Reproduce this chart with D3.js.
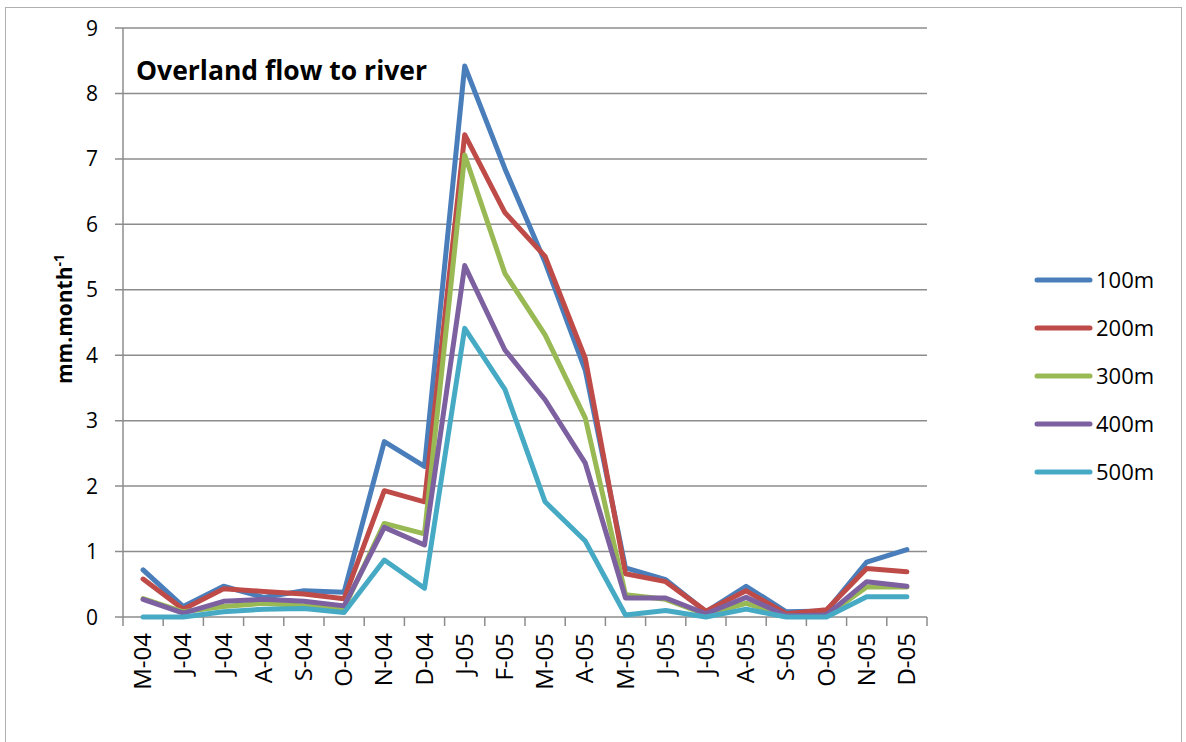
<!DOCTYPE html>
<html><head><meta charset="utf-8">
<script src="https://cdn.jsdelivr.net/npm/d3@7"></script>
<style>body{margin:0;background:#fff}svg{display:block}text{font-family:"Open Sans",sans-serif}</style>
</head><body><svg id="c" width="1186" height="742"></svg>
<script>
const categories = ["M-04","J-04","J-04","A-04","S-04","O-04","N-04","D-04","J-05","F-05","M-05","A-05","M-05","J-05","J-05","A-05","S-05","O-05","N-05","D-05"];
const seriesNames = ["100m","200m","300m","400m","500m"];
const s100 = [0.72,0.16,0.47,0.30,0.40,0.38,2.68,2.30,8.42,6.85,5.42,3.77,0.75,0.57,0.08,0.47,0.08,0.09,0.84,1.03];
const s200 = [0.58,0.12,0.43,0.39,0.35,0.28,1.93,1.76,7.37,6.18,5.51,3.95,0.66,0.54,0.09,0.40,0.05,0.11,0.74,0.69];
const s300 = [0.28,0.08,0.16,0.21,0.17,0.14,1.43,1.27,7.06,5.25,4.31,3.04,0.34,0.27,0.04,0.21,0.02,0.02,0.46,0.46];
const s400 = [0.27,0.06,0.24,0.27,0.24,0.17,1.37,1.10,5.37,4.08,3.32,2.35,0.29,0.29,0.05,0.30,0.02,0.03,0.54,0.47];
const s500 = [0.00,0.00,0.08,0.12,0.13,0.07,0.87,0.44,4.41,3.48,1.76,1.16,0.03,0.10,0.00,0.12,0.00,0.00,0.31,0.31];
const colors = ["#4A7EBB","#BE4B48","#98B954","#7D60A0","#46AAC5"];
const yTicks = [0,1,2,3,4,5,6,7,8,9];
const title = "Overland flow to river";

const svg = d3.select("#c");
svg.append("rect").attr("x",5.5).attr("y",7.5).attr("width",1176).attr("height",760)
  .attr("fill","#fff").attr("stroke","#b0b0b0").attr("stroke-width",1);

const L=123, R=927, T=28, B=617;
const x = d3.scaleBand().domain(d3.range(categories.length)).range([L,R]);
const y = d3.scaleLinear().domain([0,9]).range([B,T]);

svg.append("g").selectAll("line").data(yTicks).join("line")
  .attr("x1",115).attr("x2",R).attr("y1",d=>y(d)).attr("y2",d=>y(d))
  .attr("stroke","#8c8c8c").attr("stroke-width",1.5);
svg.append("line").attr("x1",L).attr("x2",L).attr("y1",T).attr("y2",B).attr("stroke","#8c8c8c").attr("stroke-width",1.5);
svg.append("g").selectAll("text").data(yTicks).join("text")
  .attr("x",98).attr("y",d=>y(d)).attr("dy","0.36em").attr("text-anchor","end")
  .attr("font-size",21).text(d=>d);
const bounds = d3.range(categories.length+1).map(i=> i<categories.length ? x(i) : R);
svg.append("g").selectAll("line").data(bounds).join("line")
  .attr("x1",d=>d).attr("x2",d=>d).attr("y1",B).attr("y2",B+9)
  .attr("stroke","#8c8c8c").attr("stroke-width",1.5);
svg.append("g").selectAll("text").data(categories).join("text")
  .attr("transform",(d,i)=>`translate(${x(i)+x.bandwidth()/2+8},${633}) rotate(-90)`)
  .attr("text-anchor","end").attr("font-size",24).text(d=>d);

const all=[s100,s200,s300,s400,s500];
const line = d3.line().x((d,i)=>x(i)+x.bandwidth()/2).y(d=>y(d));
all.forEach((s,k)=>{
  svg.append("path").datum(s).attr("d",line).attr("fill","none")
    .attr("stroke",colors[k]).attr("stroke-width",5).attr("stroke-linejoin","round").attr("stroke-linecap","round");
});

svg.append("text").attr("x",136).attr("y",80).attr("font-size",26.5).attr("font-weight","bold").text(title);

const yl = svg.append("text").attr("transform","translate(72,319) rotate(-90)").attr("text-anchor","middle")
  .attr("font-size",21).attr("font-weight","bold");
yl.append("tspan").text("mm.month");
yl.append("tspan").attr("dy",-8).attr("font-size",14).text("-1");

const lg = svg.append("g").selectAll("g").data(seriesNames).join("g")
  .attr("transform",(d,i)=>`translate(1035,${280+i*48})`);
lg.append("line").attr("x1",2).attr("x2",55).attr("stroke",(d,i)=>colors[i]).attr("stroke-width",5).attr("stroke-linecap","round");
lg.append("text").attr("x",61).attr("dy","0.36em").attr("font-size",22).text(d=>d);
</script></body></html>
